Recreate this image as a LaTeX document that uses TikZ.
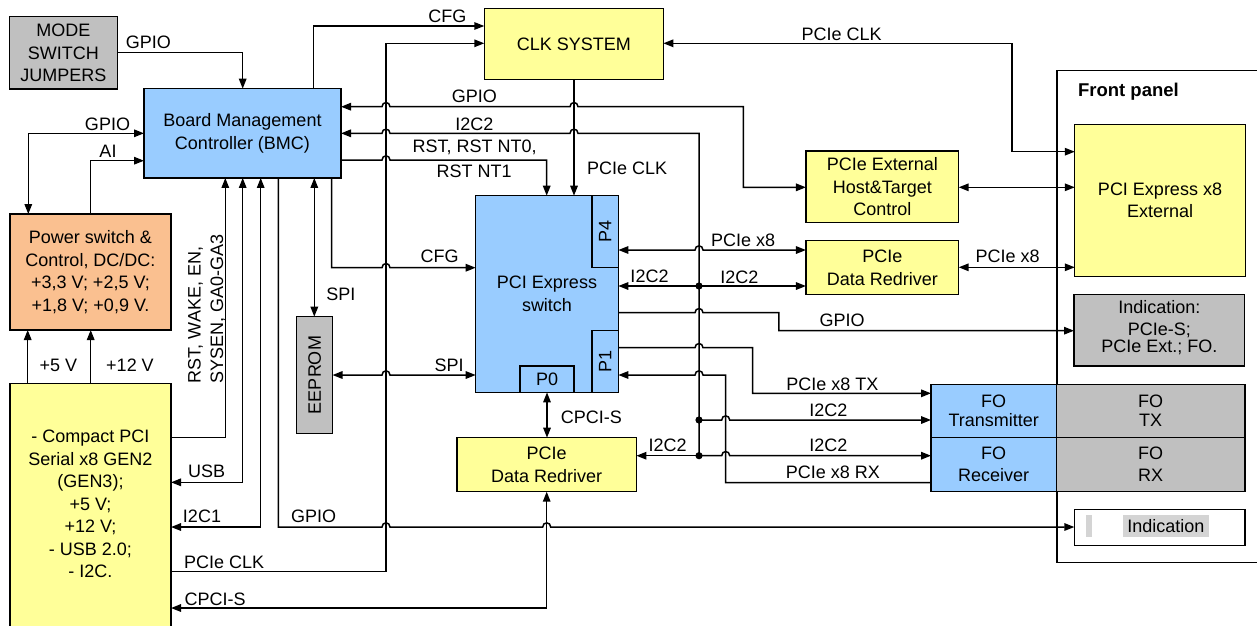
\documentclass[tikz,border=0pt]{standalone}
\usepackage{fontspec}
\setmainfont{Liberation Sans}
\usetikzlibrary{arrows.meta}
\definecolor{cblue}{HTML}{99CCFF}
\definecolor{cyel}{HTML}{FFFF99}
\definecolor{cgray}{HTML}{C0C0C0}
\definecolor{corange}{HTML}{FAC090}
\definecolor{clight}{HTML}{D4D4D4}
\newcommand\dfont{\fontsize{18}{22.5}\selectfont}
\tikzset{
  box/.style={draw, line width=1.4pt, inner sep=0pt, outer sep=0pt, align=center, font=\dfont},
  lbl/.style={inner sep=0pt, font=\dfont, align=center},
  conn/.style={line width=1.5pt},
  arr/.style={-{Triangle[length=10pt,width=7.5pt]}},
  rarr/.style={{Triangle[length=10pt,width=7.5pt]}-},
  darr/.style={{Triangle[length=10pt,width=7.5pt]}-{Triangle[length=10pt,width=7.5pt]}},
  bump/.style args={#1/#2}{insert path={-- (#1-4,#2) .. controls (#1-4,#2-5.5) and (#1+4,#2-5.5) .. (#1+4,#2)}},
  lbump/.style args={#1/#2}{insert path={-- (#1+4,#2) .. controls (#1+4,#2-5.5) and (#1-4,#2-5.5) .. (#1-4,#2)}},
}
\begin{document}
\begin{tikzpicture}[x=1pt,y=-1pt]
\useasboundingbox (0,0) rectangle (1257,625);
% front panel frame
\node[draw, line width=1.4pt, inner sep=0pt, minimum width=213pt, minimum height=492pt] (fp) at (1163.5,316.7) {};
\node[lbl, font=\fontsize{18.5}{20}\selectfont\bfseries] (fpl) at (1128.4,91.7) {Front panel};
% blocks
\node[box, fill=cgray, minimum width=108pt, minimum height=72.3pt] (mode) at (63.3,52.8) {MODE\\SWITCH\\JUMPERS};
\node[box, fill=cblue, minimum width=197pt, minimum height=89.3pt] (bmc) at (242.5,133.3) {Board Management\\Controller (BMC)};
\node[box, fill=cyel, minimum width=179pt, minimum height=71pt] (clk) at (573.8,43.8) {CLK SYSTEM};
\node[box, fill=corange, minimum width=161pt, minimum height=116pt] (pwr) at (90.5,272) {Power switch \&\\Control, DC/DC:\\+3,3 V; +2,5 V;\\+1,8 V; +0,9 V.};
\node[box, fill=cyel, minimum width=161pt, minimum height=266.7pt] (cpci) at (90.5,516.7) {};
\node[lbl] (cpcit) at (90.5,503.8) {- Compact PCI\\Serial x8 GEN2\\(GEN3);\\+5 V;\\+12 V;\\- USB 2.0;\\- I2C.};
\node[box, fill=cgray, minimum width=35.8pt, minimum height=116.6pt] (eeprom) at (314.6,375) {};
\node[lbl, rotate=90] (eepromt) at (314.6,375) {EEPROM};
\node[box, fill=cblue, minimum width=142.6pt, minimum height=196.6pt] (sw) at (547,294) {PCI Express\\switch};
\node[box, fill=cblue, minimum width=26.3pt, minimum height=72pt] (p4) at (605.2,231.7) {};
\node[lbl, rotate=90] (p4t) at (605.2,231.7) {P4};
\node[box, fill=cblue, minimum width=26.3pt, minimum height=61.6pt] (p1) at (605.2,361.5) {};
\node[lbl, rotate=90] (p1t) at (605.2,361.5) {P1};
\node[box, fill=cblue, minimum width=54pt, minimum height=26.3pt] (p0) at (547,379.2) {P0};
\node[box, fill=cyel, minimum width=152.7pt, minimum height=71.7pt] (ext) at (882.3,186.8) {PCIe External\\Host\&Target\\Control};
\node[box, fill=cyel, minimum width=152.7pt, minimum height=54pt] (rd1) at (882.3,267.7) {PCIe\\Data Redriver};
\node[box, fill=cyel, minimum width=170.5pt, minimum height=152.4pt] (pcix8) at (1160,200.5) {PCI Express x8\\External};
\node[box, fill=cgray, minimum width=170.6pt, minimum height=71.3pt] (ind1) at (1159.3,330.3) {};
\node[lbl] (ind1t) at (1159.3,327.5) {Indication:\\PCIe-S;\\[-5.8pt]PCIe Ext.; FO.};
\node[box, fill=cblue, minimum width=125.3pt, minimum height=53pt] (fotx) at (993.7,410.8) {FO\\[-3.5pt]Transmitter};
\node[box, fill=cgray, minimum width=188.7pt, minimum height=53pt] (fotxg) at (1150.7,410.8) {FO\\[-3.5pt]TX};
\node[box, fill=cblue, minimum width=125.3pt, minimum height=54pt] (forx) at (993.7,464.3) {FO\\Receiver};
\node[box, fill=cgray, minimum width=188.7pt, minimum height=54pt] (forxg) at (1150.7,464.3) {FO\\RX};
\node[box, fill=cyel, minimum width=179.4pt, minimum height=54pt] (rd2) at (546.7,464.7) {PCIe\\Data Redriver};
\node[box, fill=white, minimum width=170.7pt, minimum height=36pt] (ind2) at (1159.7,527.3) {};
\node[fill=clight, inner sep=0pt, minimum width=5.7pt, minimum height=21.7pt] (ind2a) at (1088.9,525.9) {};
\node[lbl, fill=clight, minimum width=86.3pt, minimum height=21.7pt] (ind2t) at (1165.9,525.9) {Indication};
% junctions
\coordinate (j1) at (699,286);
\coordinate (j2) at (699,420);
\coordinate (j3) at (699,455.7);
% connectors
\draw[conn,arr] (mode.east |- 0,52.3) -| (242.7,0 |- bmc.north);
\draw[conn,darr] (bmc.west |- 0,133.3) -| (28.3,0 |- pwr.north);
\draw[conn,arr] (90.7,0 |- pwr.north) |- (bmc.west |- 0,160.7);
\draw[conn,arr] (27.7,0 |- cpci.north) -- (27.7,0 |- pwr.south);
\draw[conn,arr] (90.7,0 |- cpci.north) -- (90.7,0 |- pwr.south);
\draw[conn,arr] (313.3,0 |- bmc.north) |- (clk.west |- 0,26);
\draw[conn,arr] (cpci.east |- 0,571.7) -| (386,43.3) -- (clk.west |- 0,43.3);
\draw[conn,darr] (clk.east |- 0,43.3) -| (1011.9,151.7) -- (pcix8.west |- 0,151.7);
\draw[conn,darr] (bmc.east |- 0,106.7) [bump=386/106.7] [bump=574/106.7] -| (743.3,187.3) -- (ext.west |- 0,187.3);
\draw[conn,rarr] (bmc.east |- 0,133.3) [bump=386/133.3] [bump=574/133.3] -| (j3);
\draw[conn,arr] (j1) -- (sw.east |- j1);
\draw[conn,arr] (j1) -- (rd1.west |- j1);
\draw[conn,arr] (j2) [bump=725.7/420] -- (fotx.west |- j2);
\draw[conn,arr] (j3) -- (rd2.east |- j3);
\draw[conn,arr] (j3) [bump=725.7/455.7] -- (forx.west |- j3);
\fill (j1) circle[radius=3.6pt];
\fill (j2) circle[radius=3.6pt];
\fill (j3) circle[radius=3.6pt];
\draw[conn,arr] (bmc.east |- 0,160) [bump=386/160] -| (546.7,0 |- sw.north);
\draw[conn,arr] (574,0 |- clk.south) -- (574,0 |- sw.north);
\draw[conn,darr] (p4.east |- 0,250) [bump=699/250] -- (rd1.west |- 0,250);
\draw[conn,darr] (rd1.east |- 0,267.3) -- (pcix8.west |- 0,267.3);
\draw[conn,darr] (ext.east |- 0,187.3) -- (pcix8.west |- 0,187.3);
\draw[conn,arr] (sw.east |- 0,312.7) [bump=699/312.7] -| (778.9,330.7) -- (ind1.west |- 0,330.7);
\draw[conn,arr] (p1.east |- 0,347.7) [bump=699/347.7] -| (752.6,393.3) -- (fotx.west |- 0,393.3);
\draw[conn,arr] (forx.west |- 0,482.7) -| (725.7,375) [lbump=699/375] -- (p1.east |- 0,375);
\draw[conn,arr] (331.7,0 |- bmc.south) -- (331.7,267.7) [bump=386/267.7] -- (sw.west |- 0,267.7);
\draw[conn,darr] (eeprom.east |- 0,375) [bump=386/375] -- (sw.west |- 0,375);
\draw[conn,darr] (314.3,0 |- bmc.south) -- (314.3,0 |- eeprom.north);
\draw[conn,darr] (p0.south) -- (p0.south |- rd2.north);
\draw[conn,arr] (cpci.east |- 0,437.3) -| (225.3,0 |- bmc.south);
\draw[conn,darr] (242.7,0 |- bmc.south) |- (cpci.east |- 0,482.3);
\draw[conn,darr] (260.7,0 |- bmc.south) |- (cpci.east |- 0,527);
\draw[conn,arr] (278.3,0 |- bmc.south) -- (278.3,527) [bump=386/527] [bump=546.7/527] -- (ind2.west |- 0,527);
\draw[conn,darr] (546.7,0 |- rd2.south) |- (cpci.east |- 0,608);
% labels
\node[lbl] (l1) at (148.3,42.5) {GPIO};
\node[lbl] (l2) at (107.5,124) {GPIO};
\node[lbl] (l3) at (108,151.7) {AI};
\node[lbl] (l4) at (447.3,16.3) {CFG};
\node[lbl] (l5) at (474.3,96.7) {GPIO};
\node[lbl] (l6) at (474.3,124.3) {I2C2};
\node[lbl] (l7) at (474.7,147.5) {RST, RST NT0,};
\node[lbl] (l8) at (474.2,171.7) {RST NT1};
\node[lbl] (l9) at (627.2,168.5) {PCIe CLK};
\node[lbl] (l10) at (841.7,34.7) {PCIe CLK};
\node[lbl] (l11) at (743.2,240.5) {PCIe x8};
\node[lbl] (l12) at (739.3,277) {I2C2};
\node[lbl] (l13) at (1007.6,256.7) {PCIe x8};
\node[lbl] (l14) at (649.5,276.7) {I2C2};
\node[lbl] (l15) at (439.5,256.7) {CFG};
\node[lbl] (l16) at (449.2,365) {SPI};
\node[lbl] (l17) at (340.8,294) {SPI};
\node[lbl] (l18) at (591.3,417.3) {CPCI-S};
\node[lbl, rotate=90, align=left] (l19) at (206.8,308.5) {RST, WAKE, EN,\\SYSEN, GA0-GA3};
\node[lbl] (l20) at (58.3,365) {+5 V};
\node[lbl] (l21) at (130,365) {+12 V};
\node[lbl] (l22) at (206.7,471.7) {USB};
\node[lbl] (l23) at (202,516.7) {I2C1};
\node[lbl] (l24) at (313.5,516.7) {GPIO};
\node[lbl] (l25) at (224.2,562.3) {PCIe CLK};
\node[lbl] (l26) at (215.2,599) {CPCI-S};
\node[lbl] (l27) at (667.7,445.7) {I2C2};
\node[lbl] (l28) at (828.4,410) {I2C2};
\node[lbl] (l29) at (828.4,445.7) {I2C2};
\node[lbl] (l30) at (832.9,472.3) {PCIe x8 RX};
\node[lbl] (l31) at (832.3,384) {PCIe x8 TX};
\node[lbl] (l32) at (842.1,320.7) {GPIO};
\end{tikzpicture}
\end{document}
